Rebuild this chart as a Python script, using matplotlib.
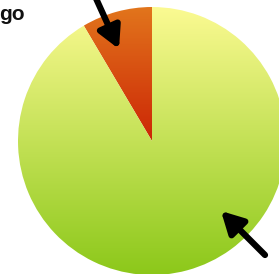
import numpy as np
import matplotlib
matplotlib.use('Agg')
import matplotlib.pyplot as plt
from matplotlib.colors import LinearSegmentedColormap

# data
labels = ['small', 'large']
shares = [8.5, 91.5]
# gradient colours (top -> bottom) for each slice
grad_top = ['#e2751c', '#fbfa92']
grad_bottom = ['#cc2606', '#8cc81a']

W, H = 279, 274
fig = plt.figure(figsize=(W/100, H/100), dpi=100)
ax = fig.add_axes([0, 0, 1, 1])

cx, cy, r = 152, H-141, 134
wedges, _ = ax.pie(shares, startangle=90, counterclock=True, center=(cx, cy),
                   radius=r, wedgeprops=dict(linewidth=0, edgecolor='none'))

for w, c0, c1 in zip(wedges, grad_top, grad_bottom):
    w.set_facecolor('none')
    bb = w.get_path().get_extents(w.get_transform() - ax.transData)
    cmap = LinearSegmentedColormap.from_list('g', [c1, c0])
    grad = np.linspace(0, 1, 256).reshape(-1, 1)
    im = ax.imshow(grad, cmap=cmap, origin='lower', aspect='auto',
                   extent=[bb.x0, bb.x1, bb.y0, bb.y1], zorder=1)
    im.set_clip_path(w)

ax.set_xlim(0, W)
ax.set_ylim(0, H)
ax.set_aspect('auto')
ax.axis('off')

# arrows
aprops = dict(arrowstyle='-|>,head_length=1.3,head_width=0.7', lw=4.5,
              color='black', shrinkA=0, shrinkB=0)
ax.annotate('', xy=(119, H-49), xytext=(94, H+6), arrowprops=aprops, zorder=5)
ax.annotate('', xy=(221, H-211), xytext=(265, H-255), arrowprops=aprops, zorder=5)

ax.text(-1, H-20, 'go', fontsize=15, fontweight='bold', color='#111111',
        ha='left', va='baseline', family='Liberation Sans')

fig.savefig('out.png', dpi=100)
